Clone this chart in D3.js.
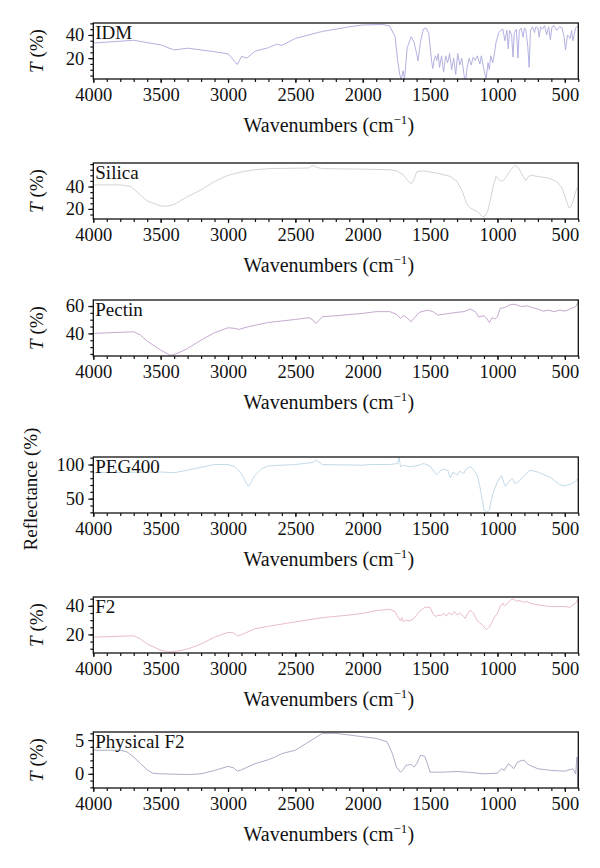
<!DOCTYPE html>
<html>
<head>
<meta charset="utf-8">
<script src="https://cdn.jsdelivr.net/npm/d3@7"></script>
<style>
  body { margin: 0; background: #fff; }
  text { font-family: "Liberation Serif", "DejaVu Serif", serif; fill: #111; }
</style>
</head>
<body>
<div id="js-canvas"></div>
<script>
"use strict";

// Spectra, as [wavenumber, value] pairs.
const idm = [
  [4000, 33], [3700, 35.4], [3500, 31.4], [3400, 27], [3300, 28.6], [3100, 25.5],
  [3000, 23.7], [2960, 18.5], [2930, 14.5], [2900, 21.5], [2860, 20], [2800, 26],
  [2700, 29], [2640, 32], [2600, 31], [2500, 37], [2300, 43], [2100, 47],
  [2000, 48.6], [1850, 49], [1800, 47.7], [1760, 38.5], [1740, 17], [1725, 6],
  [1715, 1.5], [1700, 9], [1690, 1.5], [1670, 29], [1640, 38.5], [1620, 34],
  [1600, 24], [1590, 17.5], [1570, 35], [1550, 45], [1530, 46], [1510, 41.5],
  [1490, 18.5], [1480, 11], [1470, 18.5], [1460, 22], [1450, 18], [1440, 24],
  [1430, 12], [1415, 22], [1400, 8], [1385, 22], [1370, 16], [1355, 24],
  [1340, 10], [1325, 20], [1310, 6], [1295, 24], [1280, 14], [1265, 20],
  [1245, 3], [1235, 1.5], [1225, 12], [1210, 20], [1195, 14], [1180, 21],
  [1165, 18], [1150, 22], [1130, 15], [1120, 22], [1100, 10], [1085, 2],
  [1070, 16], [1060, 10], [1050, 22], [1035, 16], [1020, 26], [1010, 34],
  [1000, 38], [990, 42], [975, 44], [960, 45], [945, 35], [930, 44], [920, 28],
  [910, 44], [895, 40], [885, 21], [875, 42], [860, 45], [848, 20], [838, 44],
  [825, 46], [810, 38], [800, 46], [790, 45], [775, 30], [765, 12], [755, 44],
  [740, 47], [725, 42], [715, 47], [700, 46], [690, 38], [680, 47], [665, 45],
  [650, 48], [635, 40], [620, 47], [608, 36], [595, 47], [580, 48], [560, 44],
  [540, 47], [520, 46], [505, 38], [495, 27], [480, 40], [460, 37], [450, 44],
  [440, 35], [420, 46], [400, 48]
];

const silica = [
  [4000, 41.5], [3800, 41.5], [3720, 40], [3650, 32.5], [3600, 27], [3500, 22.7],
  [3450, 22.4], [3400, 24], [3300, 31], [3200, 37], [3100, 44.5], [3000, 50],
  [2900, 53], [2800, 55], [2700, 56], [2400, 56.5], [2370, 59], [2340, 57],
  [2300, 56], [2000, 55.5], [1800, 55], [1750, 54], [1700, 50.5], [1660, 44.5],
  [1640, 42.4], [1620, 46], [1600, 53], [1550, 54], [1450, 52], [1350, 49],
  [1300, 44.5], [1260, 35.5], [1230, 25], [1200, 20.6], [1150, 17.6], [1110, 13],
  [1090, 13.7], [1070, 19], [1050, 29.5], [1030, 41.5], [1010, 49], [990, 46],
  [970, 44.5], [950, 46], [900, 55], [870, 59], [840, 56], [810, 49], [790, 45],
  [770, 49], [750, 50], [700, 49], [620, 47.5], [560, 44.5], [520, 38.5],
  [490, 28], [470, 21], [455, 22], [440, 26.5], [420, 35.5], [400, 40]
];

const pectin = [
  [4000, 40], [3700, 41.2], [3650, 38.8], [3600, 34.4], [3500, 27.8], [3430, 24.1],
  [3400, 24.6], [3350, 26.6], [3300, 29], [3200, 35.1], [3100, 40.5], [3000, 44.1],
  [2950, 43.7], [2920, 42.9], [2850, 44.9], [2700, 48], [2500, 50.2], [2400, 51.5],
  [2370, 49.8], [2350, 47.3], [2330, 49], [2300, 52.2], [2200, 52.9], [2000, 54.6],
  [1900, 55.9], [1800, 55.9], [1750, 54], [1720, 51], [1700, 52.9], [1680, 52],
  [1640, 48.5], [1620, 51], [1580, 55.4], [1520, 57], [1480, 55.9], [1440, 53.4],
  [1400, 54], [1300, 55.4], [1250, 55.9], [1200, 57.8], [1160, 55.4], [1140, 52],
  [1100, 52.9], [1080, 51], [1060, 48], [1040, 51.5], [1020, 50.5], [1000, 52],
  [980, 58.3], [950, 58.8], [900, 61.2], [870, 61.2], [820, 59.5], [780, 60.2],
  [740, 58.8], [700, 57.8], [660, 56.3], [620, 57], [580, 55.9], [540, 57],
  [500, 56.3], [460, 57.8], [420, 59.5], [400, 63]
];

const peg400 = [
  [4000, 88], [3500, 89], [3400, 88], [3300, 91.7], [3100, 100], [3000, 100],
  [2950, 96.6], [2900, 86.8], [2870, 74.5], [2850, 68], [2830, 73.5], [2800, 84.3],
  [2750, 94], [2700, 98], [2500, 100], [2370, 103], [2350, 106.4], [2320, 103],
  [2300, 100], [2000, 99], [1950, 100], [1800, 100], [1740, 101.5], [1730, 111],
  [1720, 96.6], [1700, 99], [1650, 96.6], [1580, 99], [1550, 101.5], [1500, 98],
  [1470, 89], [1450, 85.3], [1420, 91.7], [1400, 93], [1370, 91.7], [1350, 80.4],
  [1330, 89], [1300, 84.3], [1280, 90.2], [1250, 86.8], [1230, 94], [1200, 96.6],
  [1180, 93], [1150, 84.3], [1130, 67], [1110, 45], [1100, 33], [1080, 30.4],
  [1060, 33], [1050, 45], [1030, 60], [1000, 74.5], [970, 84.3], [950, 72],
  [940, 68], [920, 74.5], [890, 79.4], [870, 72], [840, 75.5], [800, 84.3],
  [760, 91.7], [700, 89], [600, 80.4], [540, 70.6], [500, 68.6], [450, 72],
  [420, 75.5], [400, 80.4]
];

const f2 = [
  [4000, 18.1], [3700, 19], [3650, 16.9], [3600, 13.3], [3500, 9], [3450, 7.9],
  [3400, 7.9], [3300, 9.8], [3200, 13.3], [3100, 18.1], [3000, 21.4], [2960, 21.2],
  [2930, 19], [2900, 19.8], [2800, 24], [2700, 25.7], [2500, 28.8], [2300, 31.7],
  [2100, 33.6], [2000, 34.8], [1900, 36.7], [1800, 37.6], [1760, 36], [1740, 32.4],
  [1720, 29.5], [1710, 31.9], [1700, 28.8], [1680, 30], [1650, 29.5], [1620, 31.2],
  [1580, 36], [1540, 39], [1500, 39], [1480, 34.8], [1460, 32.4], [1440, 33.6],
  [1420, 32.9], [1400, 34.8], [1380, 32.9], [1360, 35.2], [1340, 33.6], [1320, 36],
  [1300, 33.6], [1280, 35.2], [1250, 32.4], [1240, 31.2], [1220, 34.8], [1200, 37.1],
  [1180, 35.2], [1160, 31.2], [1140, 28.8], [1110, 26.4], [1080, 23.3], [1060, 25.2],
  [1040, 28.8], [1020, 32.4], [1000, 34.8], [980, 39.5], [960, 41.9], [950, 40],
  [930, 41.4], [900, 44.3], [880, 44.8], [860, 43.1], [840, 43.8], [820, 43.1],
  [800, 42.4], [780, 43.1], [760, 41.9], [700, 40.7], [650, 40], [600, 39.5],
  [500, 39.5], [460, 39], [440, 40.7], [420, 41.9], [400, 44.8]
];

const physicalF2 = [
  [4000, 3.5], [3800, 3.5], [3750, 3.25], [3700, 2.5], [3650, 1.5], [3600, 0.6],
  [3560, 0.1], [3500, 0], [3300, -0.1], [3200, 0], [3100, 0.5], [3000, 1.1],
  [2960, 0.9], [2930, 0.4], [2900, 0.6], [2800, 1.5], [2700, 2.1], [2650, 2.5],
  [2600, 3], [2500, 3.5], [2400, 4.75], [2300, 6], [2200, 6], [2000, 5.5],
  [1900, 5.25], [1820, 4.75], [1780, 3], [1750, 1], [1720, 0.25], [1700, 0.6],
  [1680, 1.25], [1640, 1.4], [1620, 1], [1600, 1.5], [1570, 2.75], [1540, 2.6],
  [1520, 1.5], [1500, 0.25], [1400, 0.25], [1300, 0.35], [1200, 0.2], [1100, 0],
  [1000, 0.1], [970, 0.75], [950, 0.5], [920, 1.5], [900, 1.25], [880, 0.75],
  [850, 1.75], [820, 2], [800, 2], [780, 1.5], [760, 1.25], [700, 0.75],
  [600, 0.5], [500, 0.4], [440, 0.75], [420, 0], [410, 2.5], [405, -2], [400, 0.5]
];

const xTicks = [4000, 3500, 3000, 2500, 2000, 1500, 1000, 500];

const panelNames = ["IDM", "Silica", "Pectin", "PEG400", "F2", "Physical F2"];
const panelData = [idm, silica, pectin, peg400, f2, physicalF2];
const panelYTicks = [[20, 40], [20, 40], [40, 60], [50, 100], [20, 40], [0, 5]];
const panelYMinor = [5, 5, 5, 10, 5, 1];
const panelYDomain = [[2, 50.3], [11, 61], [23.5, 64.4], [29, 111], [7, 46.2], [-2.1, 6.2]];
const panelYLabel = ["T", "T", "T", "Reflectance (%)", "T", "T"];
const panelColors = ["#b2b2e2", "#d4d4d4", "#c6a9cf", "#c2dbea", "#e9bccb", "#adadc8"];

const width = 600;
const height = 868;
const left = 93.3;
const right = 578.3;
const panelTops = [23, 163, 300, 457, 597, 732];
const panelHeight = 56;
const tickFont = "18.5px";

function createCanvas(w, h) {
  return d3.select("#js-canvas")
    .append("svg")
      .attr("width", w)
      .attr("height", h);
}

function drawYLabel(g, i, cy) {
  if (panelYLabel[i] === "T") {
    const t = g.append("text")
      .attr("transform", "translate(39," + cy + ") rotate(-90)")
      .attr("text-anchor", "middle")
      .attr("dominant-baseline", "middle")
      .style("font-size", "19px");
    t.append("tspan").style("font-style", "italic").text("T");
    t.append("tspan").text(" (%)");
  } else {
    g.append("text")
      .attr("transform", "translate(33," + (cy + 4) + ") rotate(-90)")
      .attr("text-anchor", "middle")
      .attr("dominant-baseline", "middle")
      .style("font-size", "19px")
      .text(panelYLabel[i]);
  }
}

function styleTickText(a) {
  a.select(".domain").remove();
  a.selectAll("text").style("font-size", tickFont)
    .style("font-family", "'Liberation Serif', serif").attr("fill", "#111");
}

function drawPanel(svg, i) {
  const top = panelTops[i];
  const bottom = top + panelHeight;
  const x = d3.scaleLinear().domain([4000, 400]).range([left, right]);
  const y = d3.scaleLinear().domain(panelYDomain[i]).range([bottom, top]);
  const g = svg.append("g");

  // the spectrum
  const line = d3.line()
    .x(function (d) { return x(d[0]); })
    .y(function (d) { return y(d[1]); });
  g.append("path")
    .datum(panelData[i])
    .attr("fill", "none")
    .attr("stroke", panelColors[i])
    .attr("stroke-width", 1)
    .attr("stroke-linejoin", "round")
    .attr("d", line);

  // x axis: minor every 100, labels every 500
  const xMinor = d3.range(400, 4001, 100);
  g.append("g")
    .attr("transform", "translate(0," + bottom + ")")
    .call(d3.axisBottom(x).tickValues(xMinor).tickSize(3).tickFormat(""))
    .call(function (a) { a.select(".domain").remove(); });
  g.append("g")
    .attr("transform", "translate(0," + bottom + ")")
    .call(d3.axisBottom(x).tickValues(xTicks).tickSize(4).tickPadding(5)
      .tickFormat(d3.format("d")))
    .call(styleTickText);

  // y axis
  const yd = panelYDomain[i];
  const step = panelYMinor[i];
  const yMinor = d3.range(Math.ceil(yd[0] / step) * step, yd[1], step);
  g.append("g")
    .attr("transform", "translate(" + left + ",0)")
    .call(d3.axisLeft(y).tickValues(yMinor).tickSize(3).tickFormat(""))
    .call(function (a) { a.select(".domain").remove(); });
  g.append("g")
    .attr("transform", "translate(" + left + ",0)")
    .call(d3.axisLeft(y).tickValues(panelYTicks[i]).tickSize(5).tickPadding(4)
      .tickFormat(d3.format("d")))
    .call(styleTickText);
  g.selectAll(".tick line").attr("stroke", "#111").attr("stroke-width", 1.2);

  // frame
  g.append("rect")
    .attr("x", left)
    .attr("y", top)
    .attr("width", right - left)
    .attr("height", panelHeight)
    .attr("fill", "none")
    .attr("stroke", "#111")
    .attr("stroke-width", 1.3);

  // panel name
  g.append("text")
    .attr("x", left + 2)
    .attr("y", top + 16)
    .style("font-size", "19px")
    .text(panelNames[i]);

  // x title
  const xt = g.append("text")
    .attr("x", (left + right) / 2 - 7)
    .attr("y", bottom + 53)
    .attr("text-anchor", "middle")
    .style("font-size", "20px");
  xt.append("tspan").text("Wavenumbers (cm");
  xt.append("tspan").attr("dy", -8).style("font-size", "13px").text("\u22121");
  xt.append("tspan").attr("dy", 8).text(")");

  drawYLabel(g, i, (top + bottom) / 2);
}

const svg = createCanvas(width, height);
for (let i = 0; i < panelNames.length; i++) drawPanel(svg, i);
</script>
</body>
</html>
